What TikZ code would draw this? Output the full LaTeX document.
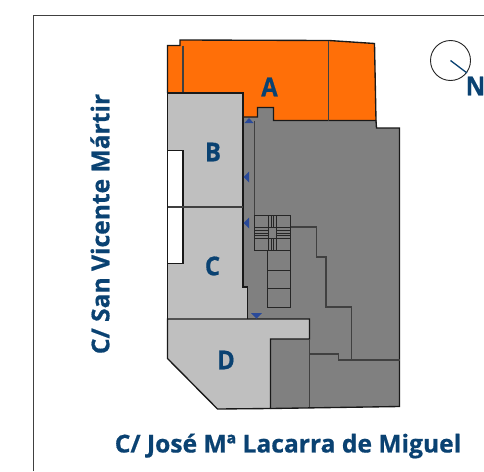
\documentclass[tikz,border=0pt]{standalone}
\usepackage{fontspec}
\setmainfont{Open Sans}[BoldFont={Open Sans Bold},BoldFeatures={FakeBold=0.6}]
\definecolor{lbl}{HTML}{0A4272}
\definecolor{orng}{HTML}{FF6F08}
\definecolor{lgray}{HTML}{BFBFBF}
\definecolor{dgray}{HTML}{808080}
\definecolor{mark}{HTML}{2A4A9A}
\tikzset{
  wall/.style={draw=black!90,line width=1.35pt,line join=miter},
  thin wall/.style={draw=black!75,line width=1.1pt},
  stair/.style={draw=black!85,line width=.85pt},
  letter/.style={font=\bfseries\fontsize{26}{26}\selectfont,text=lbl,inner sep=0pt,xscale=.92},
  street/.style={font=\bfseries\fontsize{24.6}{25}\selectfont,text=lbl,inner sep=0pt},
  marker/.style={fill=mark,draw=none}
}
\begin{document}
\begin{tikzpicture}[x=1pt,y=-1pt]
\useasboundingbox (0,0) rectangle (484,471);
\fill[white] (0,0) rectangle (484,471);
% frame
\draw[black!75,line width=1.1pt] (33.5,471) -- (33.5,15.5) -- (484,15.5);
% dark block
\fill[dgray] (243,117) -- (257.5,117) -- (257.5,107.5) -- (273.5,107.5) -- (273.5,120.5) -- (376,120.5) -- (376.5,128) -- (399.5,128) -- (399.5,406.5) -- (270.5,408.5) -- (270.5,339) -- (309.5,339) -- (309.5,319) -- (247.5,319) -- (247.5,287) -- (243,287) -- cycle;
\draw[wall] (376,120.5) -- (376.5,128) -- (399.5,128) -- (399.5,406.5) -- (270.5,408.5);
% orange
\fill[orng] (167.5,45.5) -- (180,45.5) -- (180,40) -- (329,40.5) -- (374.5,43.5) -- (376,120.5) -- (273.5,120.5) -- (273.5,107.5) -- (257.5,107.5) -- (257.5,117) -- (243,117) -- (243,93) -- (167.5,93) -- cycle;
\draw[wall] (167.5,93) -- (167.5,45.5) -- (180,45.5) -- (180,40) -- (329,40.5) -- (374.5,43.5) -- (376,120.5) -- (273.5,120.5) -- (273.5,107.5) -- (257.5,107.5) -- (257.5,117) -- (243,117);
\draw[thin wall] (183,45.5) -- (183,93);
\draw[thin wall] (328.5,40.5) -- (328.5,120.5);
% light B C
\fill[lgray] (167.5,93) -- (243,93) -- (243,287) -- (247.5,287) -- (247.5,319) -- (167.5,319) -- cycle;
\draw[wall] (167.5,319) -- (167.5,93) -- (243,93) -- (243,287) -- (247.5,287) -- (247.5,319);
\fill[white] (167.5,150.5) rectangle (183,263.5);
\draw[wall] (167.5,150.5) -- (183,150.5) -- (183,263.5) -- (167.5,263.5);
\draw[thin wall] (167.5,207) -- (243,207);
% light D
\fill[lgray] (167.5,319) -- (309.5,319) -- (309.5,339) -- (270.5,339) -- (270.5,408.5) -- (217.5,409) -- (167.5,358.5) -- cycle;
\draw[wall] (167.5,319) -- (309.5,319) -- (309.5,339) -- (270.5,339) -- (270.5,408.5) -- (217.5,409) -- (167.5,358.5) -- cycle;
\draw[thin wall] (309.5,339) -- (309.5,407);
% interior
\draw[thin wall] (254.7,120.5) -- (254.7,215);
\draw[thin wall] (290.3,227) -- (316.5,227) -- (316.5,257) -- (326,257) -- (326,307) -- (351.5,307) -- (351.5,360);
\draw[thin wall] (309.5,354) -- (338.5,354) -- (338.5,360) -- (399.5,360);
% stair core
\draw[stair] (254.7,215) rectangle (290.3,250.7);
\foreach \xx in {268.3,271,273.7,276.3} \draw[stair] (\xx,215) -- (\xx,250.7);
\foreach \yy in {227.7,230.4,233,235.7,238.3} \draw[stair] (254.7,\yy) -- (290.3,\yy);
\fill[dgray] (268.3,227.7) rectangle (276.3,238.3);
\draw[stair] (268.3,227.7) rectangle (276.3,238.3);
\draw[stair] (267.5,250.7) rectangle (290.3,307);
\draw[stair] (267.5,270) -- (290.3,270);
\draw[stair] (267.5,288.5) -- (290.3,288.5);
% access markers
\fill[marker] (244.5,123) -- (249,118) -- (253.5,123) -- cycle;
\fill[marker] (243.5,177) -- (249,171.5) -- (249,182.5) -- cycle;
\fill[marker] (243.5,223) -- (249,217.5) -- (249,228.5) -- cycle;
\fill[marker] (251,313) -- (262,313) -- (256.5,318.5) -- cycle;
% north
\node[draw=black!85,circle,minimum size=40pt,inner sep=0pt,line width=.9pt] (circ) at (450.5,60.5) {};
\coordinate (ntip) at (467,73);
\draw[lbl,line width=1.3pt] (circ.center) -- (ntip);
% labels
\node[letter] (la) at (269.5,87) {A};
\node[letter] (lb) at (213,152) {B};
\node[letter] (lc) at (212.5,266) {C};
\node[letter] (ld) at (226,360) {D};
\node[letter] (ln) at (475.5,86) {N};
\node[street,anchor=center] (sj) at (288,446) {C/ José Mª Lacarra de Miguel};
\node[street,rotate=90,anchor=center] (sv) at (100,224) {C/ San Vicente Mártir};
\end{tikzpicture}
\end{document}
